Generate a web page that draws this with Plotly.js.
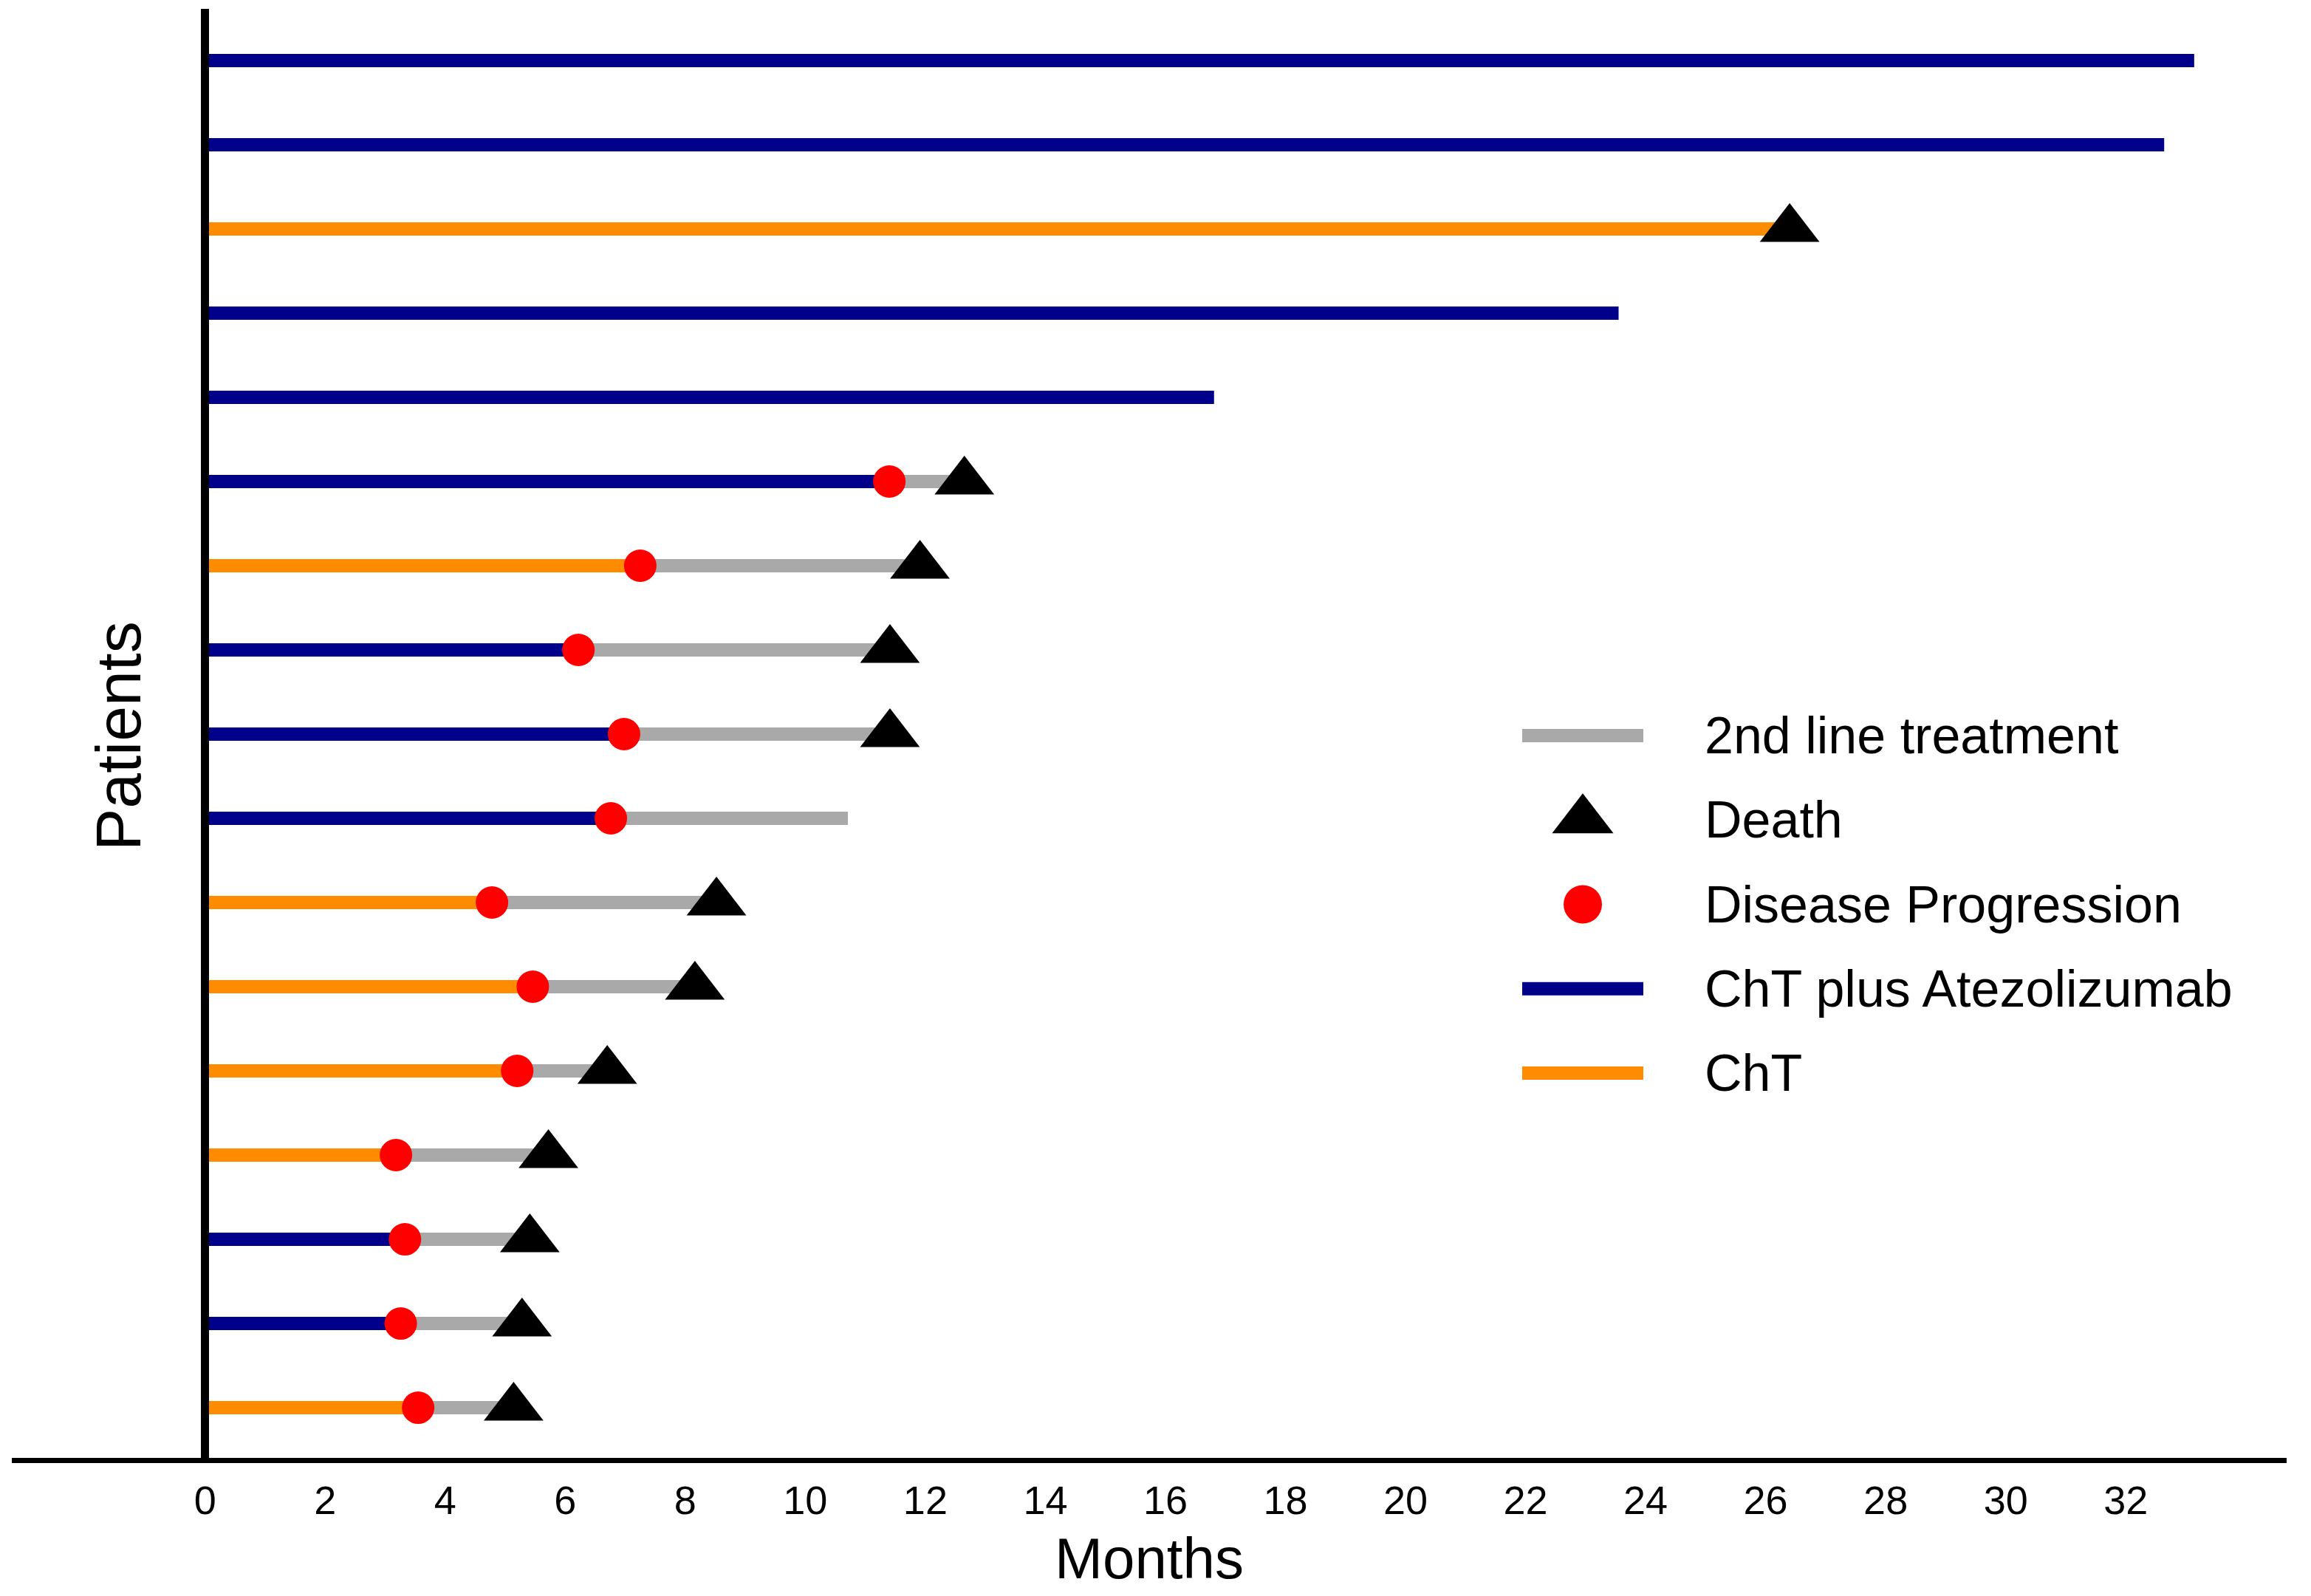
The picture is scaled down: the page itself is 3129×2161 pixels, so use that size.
<!DOCTYPE html>
<html>
<head>
<meta charset="utf-8">
<script src="https://cdn.plot.ly/plotly-3.0.1.min.js"></script>
<style>
  html, body { margin: 0; padding: 0; background: #ffffff; }
  #chart { width: 3129px; height: 2161px; }
</style>
</head>
<body>
<div id="chart"></div>
<script>
// ---- Data (patients numbered from the bottom row upward) ----
const patients = [1, 2, 3, 4, 5, 6, 7, 8, 9, 10, 11, 12, 13, 14, 15, 16, 17];
const arm = ['ChT', 'ChT plus Atezolizumab', 'ChT plus Atezolizumab', 'ChT', 'ChT', 'ChT', 'ChT',
             'ChT plus Atezolizumab', 'ChT plus Atezolizumab', 'ChT plus Atezolizumab', 'ChT',
             'ChT plus Atezolizumab', 'ChT plus Atezolizumab', 'ChT plus Atezolizumab', 'ChT',
             'ChT plus Atezolizumab', 'ChT plus Atezolizumab'];
// month of disease progression (null = no progression)
const progressionMonth = [3.55, 3.26, 3.33, 3.18, 5.20, 5.46, 4.78, 6.76, 6.98, 6.22, 7.25, 11.40,
                          null, null, null, null, null];
// month of last follow-up or death
const lastMonth = [5.14, 5.28, 5.41, 5.72, 6.70, 8.16, 8.52, 10.71, 11.41, 11.41, 11.91, 12.65,
                   16.81, 23.55, 26.40, 32.64, 33.14];
const died = [true, true, true, true, true, true, true, false, true, true, true, true,
              false, false, true, false, false];
const tickValues = [0, 2, 4, 6, 8, 10, 12, 14, 16, 18, 20, 22, 24, 26, 28, 30, 32];
const legendItems = ['2nd line treatment', 'Death', 'Disease Progression', 'ChT plus Atezolizumab', 'ChT'];

// ---- Styles ----
const COLORS = {
  'ChT plus Atezolizumab': '#00008B',
  'ChT': '#FF8C00',
  second: '#A9A9A9',
  progression: '#FF0000',
  death: '#000000'
};
const LINE_W = 18;
const FONT = 'Liberation Sans, Arial, Helvetica, sans-serif';

// plot-area geometry helpers (pixel -> plot-area fraction)
const W = 3129, H = 2161, M = { l: 16, r: 33, t: 12, b: 187 };
const fx = px => (px - M.l) / (W - M.l - M.r);
const fy = py => (H - M.b - py) / (H - M.t - M.b);

// ---- Build traces ----
function armTrace(name) {
  const x = [], y = [];
  patients.forEach((p, i) => {
    if (arm[i] !== name) return;
    const end = progressionMonth[i] !== null ? progressionMonth[i] : lastMonth[i];
    x.push(0, end, null);
    y.push(p, p, null);
  });
  return { type: 'scatter', mode: 'lines', x, y, name, showlegend: false,
           line: { color: COLORS[name], width: LINE_W }, hoverinfo: 'skip', cliponaxis: false };
}

const secondX = [], secondY = [];
patients.forEach((p, i) => {
  if (progressionMonth[i] === null) return;
  secondX.push(progressionMonth[i], lastMonth[i], null);
  secondY.push(p, p, null);
});
const secondTrace = { type: 'scatter', mode: 'lines', x: secondX, y: secondY, name: legendItems[0],
  showlegend: false, line: { color: COLORS.second, width: LINE_W }, hoverinfo: 'skip' };

const progX = [], progY = [];
patients.forEach((p, i) => { if (progressionMonth[i] !== null) { progX.push(progressionMonth[i]); progY.push(p); } });
const progTrace = { type: 'scatter', mode: 'markers', x: progX, y: progY, name: legendItems[2],
  showlegend: false, marker: { color: COLORS.progression, size: 44, symbol: 'circle' }, cliponaxis: false };

const deathX = [], deathY = [];
patients.forEach((p, i) => { if (died[i]) { deathX.push(lastMonth[i]); deathY.push(p); } });
const deathTrace = { type: 'scatter', mode: 'markers', x: deathX, y: deathY, name: legendItems[1],
  showlegend: false, marker: { color: COLORS.death, size: 70, symbol: 'triangle-up' }, cliponaxis: false };

// ---- Custom legend samples (on a small overlay axis, item index = row) ----
const legendStyle = [
  { kind: 'line', color: COLORS.second },
  { kind: 'marker', color: COLORS.death, symbol: 'triangle-up', size: 72 },
  { kind: 'marker', color: COLORS.progression, symbol: 'circle', size: 52 },
  { kind: 'line', color: COLORS['ChT plus Atezolizumab'] },
  { kind: 'line', color: COLORS['ChT'] }
];
const legendTraces = legendItems.map((label, i) => {
  const s = legendStyle[i];
  if (s.kind === 'line') {
    return { type: 'scatter', mode: 'lines', x: [0, 1], y: [i, i], xaxis: 'x2', yaxis: 'y2',
             showlegend: false, hoverinfo: 'skip', line: { color: s.color, width: LINE_W } };
  }
  return { type: 'scatter', mode: 'markers', x: [0.5], y: [i], xaxis: 'x2', yaxis: 'y2',
           showlegend: false, hoverinfo: 'skip', cliponaxis: false,
           marker: { color: s.color, symbol: s.symbol, size: s.size } };
});
const legendAnnotations = legendItems.map((label, i) => ({
  text: label, xref: 'paper', yref: 'y2', x: fx(2306), y: i,
  xanchor: 'left', yanchor: 'middle', showarrow: false,
  font: { family: FONT, size: 70, color: '#000000' }
}));

const data = [secondTrace, armTrace('ChT plus Atezolizumab'), armTrace('ChT'), progTrace, deathTrace]
  .concat(legendTraces);

const layout = {
  width: W, height: H,
  margin: M,
  paper_bgcolor: '#ffffff', plot_bgcolor: '#ffffff',
  showlegend: false,
  font: { family: FONT, color: '#000000' },
  xaxis: {
    range: [-3.22, 34.68],
    tickmode: 'array', tickvals: tickValues, ticktext: tickValues.map(String),
    ticks: '', showgrid: false,
    zeroline: true, zerolinecolor: '#000000', zerolinewidth: 11, zerolinelayer: 'above traces',
    showline: true, linecolor: '#000000', linewidth: 7,
    tickfont: { family: FONT, size: 54, color: '#000000' },
    ticklabelstandoff: 4,
    title: { text: 'Months', font: { family: FONT, size: 78, color: '#000000' }, standoff: 25 }
  },
  yaxis: {
    range: [0.404, 17.614], showticklabels: false, showgrid: false, zeroline: false,
    showline: false, ticks: ''
  },
  xaxis2: { domain: [fx(2061), fx(2225)], range: [0, 1], anchor: 'y2', visible: false, fixedrange: true },
  yaxis2: { domain: [fy(1510), fy(939)], range: [4.5, -0.5], anchor: 'x2', visible: false, fixedrange: true },
  annotations: [
    { text: 'Patients', xref: 'paper', yref: 'paper', x: fx(160), y: fy(997),
      xanchor: 'center', yanchor: 'middle', textangle: -90, showarrow: false,
      font: { family: FONT, size: 86, color: '#000000' } }
  ].concat(legendAnnotations)
};

Plotly.newPlot('chart', data, layout, { staticPlot: true, displayModeBar: false });
</script>
</body>
</html>
